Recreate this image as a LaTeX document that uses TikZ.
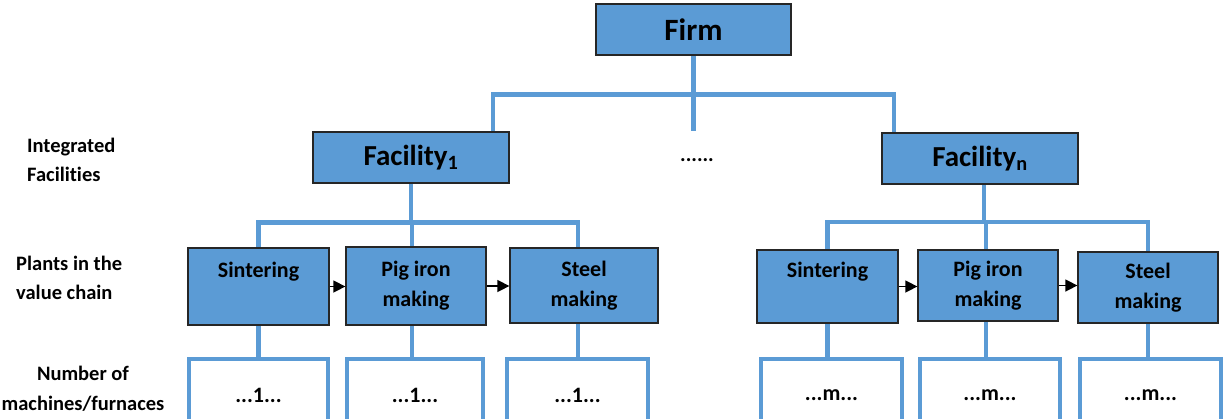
\documentclass[tikz,border=0pt]{standalone}
\usepackage{fontspec}
\setmainfont{Carlito}[Ligatures=NoCommon]
\usetikzlibrary{arrows.meta,backgrounds}
\definecolor{boxblue}{HTML}{5B9BD5}
\definecolor{busblue}{HTML}{5B9BD5}
\begin{document}
\begin{tikzpicture}[x=1pt,y=-1pt,
  box/.style={draw=black!85, line width=1.3pt, fill=boxblue, inner sep=0pt, align=center,
    font=\bfseries\fontsize{22}{30}\selectfont, text=black},
  bigbox/.style={box, minimum width=196pt, minimum height=51pt},
  bus/.style={draw=busblue, line width=4.2pt},
  flow/.style={-{Triangle[length=12pt,width=12pt]}, line width=1.5pt, black},
  lbl/.style={font=\bfseries\fontsize{20.5}{29.5}\selectfont, inner sep=0pt},
  cnt/.style={minimum height=72pt, inner sep=0pt, font=\bfseries\fontsize{22}{26}\selectfont}
]
\useasboundingbox (0,0) rectangle (1225,418);

% top level
\node[bigbox, minimum width=195pt, font=\bfseries\fontsize{31}{36}\selectfont] (firm) at (693.5,29.5) {Firm};
\node[bigbox, font=\bfseries\fontsize{29}{34}\selectfont] (fac1) at (411,157.5) {Facility\textsubscript{1}};
\node[bigbox, font=\bfseries\fontsize{29}{34}\selectfont] (facn) at (980,158.5) {Facility\textsubscript{n}};
\node[font=\bfseries\fontsize{21}{24}\selectfont, inner sep=0pt] (dots) at (697,160) {......};

% plants, facility 1
\node[box, minimum width=141pt, minimum height=77pt] (s1) at (258.5,286.5) {Sintering\\\phantom{g}};
\node[box, minimum width=140pt, minimum height=78pt] (p1) at (416,286) {Pig iron\\making};
\node[box, minimum width=148pt, minimum height=75pt] (st1) at (584,285.5) {Steel\\making};
% plants, facility n
\node[box, minimum width=141pt, minimum height=73pt] (s2) at (827.5,286.5) {Sintering\\\phantom{g}};
\node[box, minimum width=140pt, minimum height=71pt] (p2) at (988,285.5) {Pig iron\\making};
\node[box, minimum width=140pt, minimum height=71pt] (st2) at (1148,287.5) {Steel\\making};

% machine counts
\node[cnt, minimum width=139pt] (m11) at (258.5,395) {...1...};
\node[cnt, minimum width=136pt] (m12) at (415,395) {...1...};
\node[cnt, minimum width=141pt] (m13) at (577.5,395) {...1...};
\node[cnt, minimum width=141pt] (m21) at (831.5,395) {...m...};
\node[cnt, minimum width=140pt] (m22) at (990,395) {...m...};
\node[cnt, minimum width=141pt] (m23) at (1150.5,395) {...m...};

% row labels
\node[lbl, anchor=west, align=left] (lint) at (27,160) {Integrated\\Facilities};
\node[lbl, anchor=west, align=left] (lpl) at (16,278) {Plants in the\\value chain};
\node[lbl, align=center] (lnum) at (83,389) {Number of\\machines/furnaces};

\coordinate (trunk) at (693.5,131);
\coordinate (bt) at (693.5,94.5);
\coordinate (b1) at (411,222.5);
\coordinate (b2) at (984,222);

\begin{scope}[on background layer]
  \draw[bus] (firm.south) -- (trunk);
  \draw[bus] ([xshift=82pt]fac1.north) |- (bt) -| ([xshift=-86pt]facn.north);
  % facility 1
  \draw[bus] (fac1.south) -- (b1);
  \draw[bus] (s1.north) |- (b1) -| ([xshift=-6pt]st1.north);
  \draw[bus] ([xshift=-4pt]p1.north) -- ([xshift=-4pt]p1.north |- b1);
  \draw[bus] (s1.south) -- (s1.south |- m11.north);
  \draw[bus] ([xshift=-4pt]p1.south) -- ([xshift=-4pt]p1.south |- m12.north);
  \draw[bus] ([xshift=-6pt]st1.south) -- ([xshift=-6pt]st1.south |- m13.north);
  % facility n
  \draw[bus] ([xshift=4pt]facn.south) -- (b2);
  \draw[bus] (s2.north) |- (b2) -| (st2.north);
  \draw[bus] ([xshift=-2pt]p2.north) -- ([xshift=-2pt]p2.north |- b2);
  \draw[bus] (s2.south) -- (s2.south |- m21.north);
  \draw[bus] ([xshift=-2pt]p2.south) -- ([xshift=-2pt]p2.south |- m22.north);
  \draw[bus] (st2.south) -- (st2.south |- m23.north);
  % brackets
  \foreach \m in {m11,m12,m13,m21,m22,m23}
    \draw[bus] (\m.south west) |- (\m.north) -| (\m.south east);
\end{scope}

% flow arrows
\draw[flow] (s1.east) -- (s1.east -| p1.west);
\draw[flow] (p1.east) -- (p1.east -| st1.west);
\draw[flow] (s2.east) -- (s2.east -| p2.west);
\draw[flow] (p2.east) -- (p2.east -| st2.west);
\end{tikzpicture}
\end{document}
